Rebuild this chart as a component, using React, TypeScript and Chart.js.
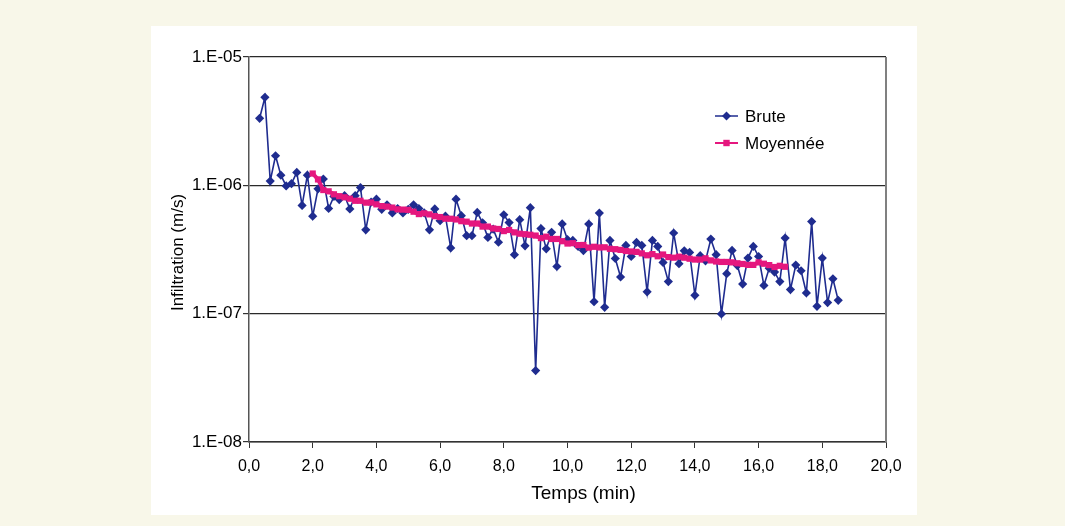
import React, { useEffect, useRef } from "react";
import { Chart, registerables } from "chart.js";

Chart.register(...registerables);

// Time of each raw measurement (seconds)
const timeSec = [
  20, 30, 40, 50, 60, 70, 80, 90, 100, 110,
  120, 130, 140, 150, 160, 170, 180, 190, 200, 210,
  220, 230, 240, 250, 260, 270, 280, 290, 300, 310,
  320, 330, 340, 350, 360, 370, 380, 390, 400, 410,
  420, 430, 440, 450, 460, 470, 480, 490, 500, 510,
  520, 530, 540, 550, 560, 570, 580, 590, 600, 610,
  620, 630, 640, 650, 660, 670, 680, 690, 700, 710,
  720, 730, 740, 750, 760, 770, 780, 790, 800, 810,
  820, 830, 840, 850, 860, 870, 880, 890, 900, 910,
  920, 930, 940, 950, 960, 970, 980, 990, 1000, 1010,
  1020, 1030, 1040, 1050, 1060, 1070, 1080, 1090, 1100, 1110,
];

// "Brute" infiltration values (m/s)
const brute = [
  3.33e-6, 4.85e-6, 1.08e-6, 1.7e-6, 1.2e-6, 9.9e-7, 1.03e-6, 1.26e-6, 6.97e-7, 1.2e-6,
  5.75e-7, 9.4e-7, 1.12e-6, 6.6e-7, 8.2e-7, 7.75e-7, 8.3e-7, 6.55e-7, 8.3e-7, 9.6e-7,
  4.5e-7, 7.4e-7, 7.8e-7, 6.5e-7, 7.05e-7, 6.1e-7, 6.6e-7, 6.1e-7, 6.5e-7, 7.05e-7,
  6.6e-7, 6.1e-7, 4.5e-7, 6.55e-7, 5.3e-7, 5.75e-7, 3.25e-7, 7.8e-7, 5.8e-7, 4.05e-7,
  4.05e-7, 6.15e-7, 5.1e-7, 3.93e-7, 4.56e-7, 3.6e-7, 5.9e-7, 5.13e-7, 2.88e-7, 5.4e-7,
  3.38e-7, 6.7e-7, 3.6e-8, 4.6e-7, 3.2e-7, 4.3e-7, 2.33e-7, 5.0e-7, 3.77e-7, 3.72e-7,
  3.34e-7, 3.1e-7, 4.99e-7, 1.24e-7, 6.08e-7, 1.12e-7, 3.72e-7, 2.69e-7, 1.93e-7, 3.4e-7,
  2.79e-7, 3.59e-7, 3.4e-7, 1.48e-7, 3.72e-7, 3.34e-7, 2.51e-7, 1.78e-7, 4.25e-7, 2.45e-7,
  3.09e-7, 3.0e-7, 1.39e-7, 2.83e-7, 2.58e-7, 3.81e-7, 2.88e-7, 9.95e-8, 2.05e-7, 3.11e-7,
  2.37e-7, 1.7e-7, 2.71e-7, 3.34e-7, 2.79e-7, 1.66e-7, 2.26e-7, 2.11e-7, 1.78e-7, 3.88e-7,
  1.54e-7, 2.39e-7, 2.16e-7, 1.45e-7, 5.22e-7, 1.14e-7, 2.71e-7, 1.22e-7, 1.87e-7, 1.27e-7,
];

// Time of each averaged value (seconds)
const avgTimeSec = [
  120, 130, 140, 150, 160, 170, 180, 190, 200, 210,
  220, 230, 240, 250, 260, 270, 280, 290, 300, 310,
  320, 330, 340, 350, 360, 370, 380, 390, 400, 410,
  420, 430, 440, 450, 460, 470, 480, 490, 500, 510,
  520, 530, 540, 550, 560, 570, 580, 590, 600, 610,
  620, 630, 640, 650, 660, 670, 680, 690, 700, 710,
  720, 730, 740, 750, 760, 770, 780, 790, 800, 810,
  820, 830, 840, 850, 860, 870, 880, 890, 900, 910,
  920, 930, 940, 950, 960, 970, 980, 990, 1000, 1010,
];

// "Moyennée" values (m/s)
const moyennee = [
  12.36e-7, 11.12e-7, 9.19e-7, 8.98e-7, 8.51e-7, 8.23e-7, 8.07e-7, 7.87e-7, 7.58e-7, 7.58e-7,
  7.33e-7, 7.34e-7, 7.11e-7, 6.89e-7, 6.83e-7, 6.71e-7, 6.5e-7, 6.47e-7, 6.44e-7, 6.23e-7,
  5.97e-7, 6.05e-7, 5.94e-7, 5.75e-7, 5.66e-7, 5.5e-7, 5.49e-7, 5.42e-7, 5.26e-7, 5.21e-7,
  5.04e-7, 5.04e-7, 4.77e-7, 4.77e-7, 4.61e-7, 4.57e-7, 4.4e-7, 4.49e-7, 4.3e-7, 4.2e-7,
  4.16e-7, 4.12e-7, 4.06e-7, 3.88e-7, 3.98e-7, 3.82e-7, 3.82e-7, 3.67e-7, 3.52e-7, 3.54e-7,
  3.42e-7, 3.43e-7, 3.27e-7, 3.32e-7, 3.28e-7, 3.29e-7, 3.2e-7, 3.18e-7, 3.14e-7, 3.08e-7,
  3.05e-7, 3.03e-7, 2.95e-7, 2.85e-7, 2.91e-7, 2.8e-7, 2.89e-7, 2.76e-7, 2.73e-7, 2.78e-7,
  2.73e-7, 2.68e-7, 2.64e-7, 2.64e-7, 2.7e-7, 2.6e-7, 2.55e-7, 2.53e-7, 2.53e-7, 2.51e-7,
  2.47e-7, 2.44e-7, 2.4e-7, 2.4e-7, 2.51e-7, 2.45e-7, 2.39e-7, 2.31e-7, 2.36e-7, 2.32e-7,
];

const xTicks = [0, 2, 4, 6, 8, 10, 12, 14, 16, 18, 20];
const yTicks = [1e-8, 1e-7, 1e-6, 1e-5];
const seriesNames = ["Brute", "Moyennée"];
const xTitle = "Temps (min)";
const yTitle = "Infiltration (m/s)";

const BLUE = "#1f2c8f";
const PINK = "#e5177e";
const FONT = "'Liberation Sans', Arial, Helvetica, sans-serif";

const bgPlugin = {
  id: "bgPanel",
  beforeDraw(chart: any) {
    const ctx = chart.ctx;
    ctx.save();
    ctx.fillStyle = "#f8f7e9";
    ctx.fillRect(0, 0, chart.width, chart.height);
    ctx.fillStyle = "#ffffff";
    ctx.fillRect(151, 26, 766, 489);
    ctx.restore();
  },
};

const decorPlugin = {
  id: "decor",
  afterDraw(chart: any) {
    const ctx = chart.ctx;
    const ca = chart.chartArea;
    ctx.save();
    // right border of the plot
    ctx.strokeStyle = "#808080";
    ctx.lineWidth = 2;
    ctx.beginPath();
    ctx.moveTo(ca.right, ca.top);
    ctx.lineTo(ca.right, ca.bottom);
    ctx.stroke();

    // axis titles
    ctx.fillStyle = "#000";
    ctx.textAlign = "center";
    ctx.textBaseline = "middle";
    ctx.font = `19px ${FONT}`;
    ctx.fillText(xTitle, (ca.left + ca.right) / 2 + 16, 494);
    ctx.save();
    ctx.translate(178, (ca.top + ca.bottom) / 2 + 3);
    ctx.rotate(-Math.PI / 2);
    ctx.font = `17px ${FONT}`;
    ctx.fillText(yTitle, 0, 0);
    ctx.restore();

    // legend
    const lx = 715;
    const rows = [116, 143];
    ctx.font = `17px ${FONT}`;
    ctx.textAlign = "left";
    rows.forEach((ry, i) => {
      const col = i === 0 ? BLUE : PINK;
      ctx.strokeStyle = col;
      ctx.fillStyle = col;
      ctx.lineWidth = i === 0 ? 1.5 : 2;
      ctx.beginPath();
      ctx.moveTo(lx, ry);
      ctx.lineTo(lx + 23, ry);
      ctx.stroke();
      const cx = lx + 11.5;
      ctx.beginPath();
      if (i === 0) {
        ctx.moveTo(cx - 4.5, ry);
        ctx.lineTo(cx, ry - 4.5);
        ctx.lineTo(cx + 4.5, ry);
        ctx.lineTo(cx, ry + 4.5);
        ctx.closePath();
      } else {
        ctx.rect(cx - 3.2, ry - 3.2, 6.4, 6.4);
      }
      ctx.fill();
      ctx.fillStyle = "#000";
      ctx.fillText(seriesNames[i], lx + 30, ry + 1);
    });
    ctx.restore();
  },
};

export default function App() {
  const ref = useRef<HTMLCanvasElement | null>(null);

  useEffect(() => {
    if (!ref.current) return;
    const bruteData = timeSec.map((s, i) => ({ x: s / 60, y: brute[i] }));
    const moyData = avgTimeSec.map((s, i) => ({ x: s / 60, y: moyennee[i] }));

    const chart = new Chart(ref.current, {
      type: "line",
      data: {
        datasets: [
          {
            label: seriesNames[0],
            data: bruteData,
            borderColor: BLUE,
            backgroundColor: BLUE,
            borderWidth: 1.6,
            pointStyle: "rectRot",
            pointRadius: 4.6,
            pointBorderWidth: 0,
            pointBackgroundColor: BLUE,
            tension: 0,
            order: 1,
          },
          {
            label: seriesNames[1],
            data: moyData,
            borderColor: PINK,
            backgroundColor: PINK,
            borderWidth: 4,
            pointStyle: "rect",
            pointRadius: 4.4,
            pointBorderWidth: 0,
            pointBackgroundColor: PINK,
            tension: 0,
            order: 0,
          },
        ],
      },
      options: {
        animation: false,
        responsive: false,
        devicePixelRatio: 1,
        events: [],
        layout: { padding: { left: 0, right: 179, top: 57, bottom: 0 } },
        plugins: {
          legend: { display: false },
          tooltip: { enabled: false },
          title: { display: false },
        },
        scales: {
          x: {
            type: "linear",
            min: 0,
            max: 20,
            afterFit: (s: any) => {
              s.height = 84;
            },
            afterBuildTicks: (s: any) => {
              s.ticks = xTicks.map((v) => ({ value: v }));
            },
            ticks: {
              color: "#000",
              font: { family: FONT, size: 16 },
              padding: 9,
              maxRotation: 0,
              autoSkip: false,
              callback: (v: any) => Number(v).toFixed(1).replace(".", ","),
            },
            grid: {
              drawOnChartArea: false,
              drawTicks: true,
              tickLength: 6,
              tickColor: "#333",
              tickWidth: 1,
            },
            border: { display: true, color: "#333", width: 1.5 },
          },
          y: {
            type: "logarithmic",
            min: 1e-8,
            max: 1e-5,
            afterFit: (s: any) => {
              s.width = 249;
            },
            afterBuildTicks: (s: any) => {
              s.ticks = yTicks.map((v) => ({ value: v }));
            },
            ticks: {
              color: "#000",
              font: { family: FONT, size: 17 },
              padding: 1,
              autoSkip: false,
              callback: (v: any) => {
                const e = Math.round(-Math.log10(Number(v)));
                return "1.E-" + String(e).padStart(2, "0");
              },
            },
            grid: {
              drawOnChartArea: true,
              drawTicks: true,
              tickLength: 6,
              color: "#2a2a2a",
              lineWidth: 1.2,
              tickColor: "#333",
            },
            border: { display: true, color: "#555", width: 1.5 },
          },
        },
      },
      plugins: [bgPlugin, decorPlugin],
    });
    return () => chart.destroy();
  }, []);

  return (
    <div style={{ position: "fixed", left: 0, top: 0, width: 1065, height: 526 }}>
      <canvas ref={ref} width={1065} height={526} style={{ display: "block", width: 1065, height: 526 }} />
    </div>
  );
}
